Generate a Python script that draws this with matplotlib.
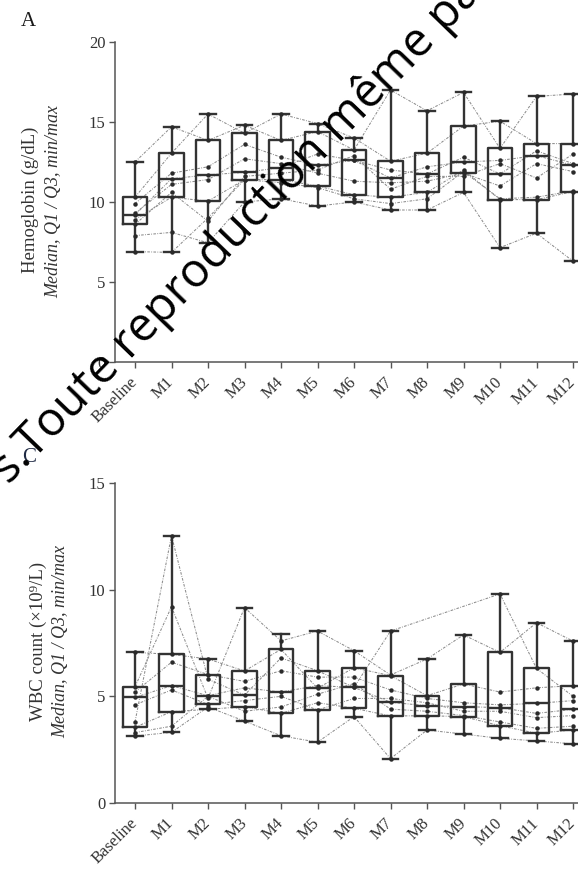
import numpy as np
import matplotlib
matplotlib.use("Agg")
import matplotlib.pyplot as plt

# ---------------- data ----------------
timepoints = ["Baseline", "M1", "M2", "M3", "M4", "M5", "M6", "M7", "M8", "M9", "M10", "M11", "M12"]

# Hemoglobin box statistics (g/dL)
hb_min = [6.9, 6.85, 7.45, 10.0, 10.2, 9.75, 10.0, 9.5, 9.5, 10.6, 7.15, 8.05, 6.3]
hb_q1 = [8.6, 10.3, 10.05, 11.4, 11.4, 11.0, 10.45, 10.3, 10.6, 11.8, 10.15, 10.15, 10.65]
hb_med = [9.2, 11.45, 11.7, 11.85, 12.15, 12.3, 12.6, 11.5, 11.75, 12.5, 11.75, 12.9, 12.3]
hb_q3 = [10.3, 13.05, 13.85, 14.3, 13.85, 14.4, 13.25, 12.55, 13.05, 14.75, 13.35, 13.65, 13.65]
hb_max = [12.5, 14.7, 15.5, 14.8, 15.5, 14.9, 14.0, 17.0, 15.7, 16.85, 15.05, 16.6, 16.75]

# Hemoglobin individual patients
hb_p1 = [12.5, 14.7, 13.85, 14.8, 13.85, 14.4, 13.25, 17.0, 15.7, 16.85, 13.35, 16.6, 16.75]
hb_p2 = [10.3, 13.05, 15.5, 14.3, 15.5, 14.9, 14.0, 12.55, 13.05, 14.75, 15.05, 13.65, 13.65]
hb_p3 = [9.9, 11.8, 12.2, 13.6, 12.8, 12.3, 12.6, 11.5, 12.2, 12.5, 12.6, 12.9, 12.3]
hb_p4 = [9.2, 11.45, 11.7, 11.85, 12.15, 13.0, 12.6, 12.0, 11.75, 12.8, 11.75, 13.2, 12.4]
hb_p5 = [9.3, 11.1, 11.4, 12.7, 12.4, 11.8, 11.3, 11.2, 11.3, 11.8, 11.0, 12.4, 11.9]
hb_p6 = [8.9, 10.3, 10.05, 11.4, 11.4, 11.0, 10.45, 10.3, 10.6, 12.0, 10.15, 10.15, 10.65]
hb_p7 = [8.6, 10.6, 8.8, 11.6, 11.8, 12.0, 12.9, 10.8, 11.6, 11.6, 12.4, 11.5, 13.0]
hb_p8 = [7.9, 8.1, 7.45, 10.0, 10.2, 9.75, 10.0, 9.5, 9.5, 10.6, 7.15, 8.05, 6.3]
hb_p9 = [6.9, 6.85, 9.0, 11.4, 11.2, 10.9, 10.2, 9.9, 10.2, 11.9, 10.2, 10.3, 10.7]

# WBC box statistics (x10^9/L)
wbc_min = [3.14, 3.31, 4.39, 3.84, 3.15, 2.85, 4.05, 2.08, 3.42, 3.23, 3.03, 2.91, 2.77]
wbc_q1 = [3.55, 4.28, 4.62, 4.52, 4.2, 4.36, 4.44, 4.08, 4.09, 4.05, 3.62, 3.27, 3.42]
wbc_med = [4.95, 5.5, 5.03, 5.06, 5.2, 5.38, 5.42, 4.72, 4.56, 4.52, 4.47, 4.67, 4.39]
wbc_q3 = [5.45, 6.97, 6.02, 6.19, 7.2, 6.2, 6.34, 5.97, 5.03, 5.58, 7.06, 6.31, 5.5]
wbc_max = [7.06, 12.53, 6.75, 9.16, 7.9, 8.06, 7.14, 8.06, 6.75, 7.88, 9.8, 8.45, 7.59]

# WBC individual patients (nan = missed visit)
nan = float("nan")
wbc_p1 = [3.8, 12.53, 5.8, 5.06, 6.8, 6.2, 5.42, 8.06, nan, nan, 9.8, 6.31, 5.0]
wbc_p2 = [5.45, 9.2, 4.9, 9.16, 7.6, 8.06, 7.14, 6.0, 6.75, 7.88, 7.06, 8.45, 7.59]
wbc_p3 = [7.06, 6.97, 6.75, 6.19, 7.2, 5.38, 6.34, 5.97, 5.03, 5.58, 5.2, 5.4, 5.5]
wbc_p4 = [5.2, 6.6, 6.02, 5.7, 6.2, 5.9, 5.9, 5.3, 4.9, 4.7, 4.6, 4.67, 4.8]
wbc_p5 = [4.95, 5.5, 5.03, 5.4, 5.2, 5.5, 5.42, 4.72, 4.56, 4.52, 4.47, 4.2, 4.39]
wbc_p6 = [4.6, 5.3, 4.62, 4.8, 5.0, 4.36, 4.9, 4.9, 4.7, 4.3, 4.3, 4.0, 4.1]
wbc_p7 = [3.55, 4.28, 4.39, 4.52, 4.2, 4.7, 4.44, 4.08, 4.09, 4.05, 3.62, 3.27, 3.42]
wbc_p8 = [3.14, 3.31, 4.5, 3.84, 3.15, 2.85, 4.05, 2.08, 3.42, 3.23, 3.03, 2.91, 2.77]
wbc_p9 = [3.3, 3.6, 5.0, 4.3, 4.5, 5.1, 5.6, 4.4, 4.3, 4.1, 3.8, 3.5, 3.6]

hb_patients = [hb_p1, hb_p2, hb_p3, hb_p4, hb_p5, hb_p6, hb_p7, hb_p8, hb_p9]
wbc_patients = [wbc_p1, wbc_p2, wbc_p3, wbc_p4, wbc_p5, wbc_p6, wbc_p7, wbc_p8, wbc_p9]

# ---------------- figure ----------------
W, H = 578, 871
fig = plt.figure(figsize=(W / 100, H / 100), dpi=100)
SERIF = ["Liberation Serif", "DejaVu Serif"]
TXT = "#333333"
BOX = "#333333"


def px_axes(left, top, right, bottom):
    return fig.add_axes([left / W, 1 - bottom / H, (right - left) / W, (bottom - top) / H])


def draw_panel(ax, mins, q1s, meds, q3s, maxs, patients, ymax, yticks):
    x = np.arange(len(timepoints))
    for p in patients:
        arr = np.array(p, dtype=float)
        m = ~np.isnan(arr)
        ax.plot(x[m], arr[m], color="#8c8c8c", lw=0.75,
                linestyle=(0, (2.5, 1.3, 0.8, 1.3)), zorder=1)
        ax.plot(x[m], arr[m], "o", color="#2a2a2a", ms=2.2, zorder=3)
    stats = [dict(med=md, q1=a, q3=b, whislo=lo, whishi=hi, fliers=[])
             for lo, a, md, b, hi in zip(mins, q1s, meds, q3s, maxs)]
    lp = dict(color=BOX, lw=1.7)
    ax.bxp(stats, positions=x, widths=0.68, capwidths=0.42, showfliers=False,
           boxprops=lp, whiskerprops=lp, capprops=lp, medianprops=lp,
           manage_ticks=False, zorder=2)
    ax.set_xlim(-0.548, -0.548 + 485 / 36.5)
    ax.set_ylim(0, ymax)
    ax.set_yticks(yticks)
    ax.set_yticklabels([str(t) for t in yticks], family=SERIF, fontsize=12, color=TXT)
    ax.set_xticks(x)
    ax.set_xticklabels(timepoints, rotation=45, ha="right", va="center",
                       rotation_mode="anchor", family=SERIF, fontsize=12, color=TXT)
    for s in ["top", "right"]:
        ax.spines[s].set_visible(False)
    for s in ["left", "bottom"]:
        ax.spines[s].set_color("#555555")
        ax.spines[s].set_linewidth(1.1)
    ax.tick_params(axis="both", direction="out", length=4, width=1.0, color="#555555", pad=3)
    ax.tick_params(axis="x", pad=9)
    ax.patch.set_alpha(0)


axA = px_axes(115, 42, 600, 362)
draw_panel(axA, hb_min, hb_q1, hb_med, hb_q3, hb_max, hb_patients, 20, [0, 5, 10, 15, 20])

axC = px_axes(115, 483, 600, 803)
draw_panel(axC, wbc_min, wbc_q1, wbc_med, wbc_q3, wbc_max, wbc_patients, 15, [0, 5, 10, 15])

# y labels
fig.text(30 / W, 1 - 200 / H, "Hemoglobin (g/dL)", rotation=90, ha="center", va="center",
         family=SERIF, fontsize=13.5, color=TXT)
fig.text(54 / W, 1 - 201 / H, "Median, Q1 / Q3, min/max", rotation=90, ha="center", va="center",
         family=SERIF, fontsize=13, style="italic", color=TXT)
fig.text(38 / W, 1 - 641 / H, "WBC count (\u00d710\u2079/L)", rotation=90, ha="center", va="center",
         family=SERIF, fontsize=13.5, color=TXT)
fig.text(61 / W, 1 - 641 / H, "Median, Q1 / Q3, min/max", rotation=90, ha="center", va="center",
         family=SERIF, fontsize=13, style="italic", color=TXT)

# panel letters
fig.text(28 / W, 1 - 22 / H, "A", ha="center", va="center", family=SERIF, fontsize=15, color="#1a1a1a")
fig.text(29 / W, 1 - 457 / H, "C", ha="center", va="center", family=SERIF, fontsize=15, color="#1f2a44")

# watermark
fig.text(9 / W, 1 - 485 / H, "s.Toute reproduction m\u00eame partielle", rotation=46,
         rotation_mode="anchor", ha="left", va="baseline", fontsize=34,
         family=["Open Sans", "DejaVu Sans"], color="black", zorder=10)

fig.savefig("out.png", dpi=100)
